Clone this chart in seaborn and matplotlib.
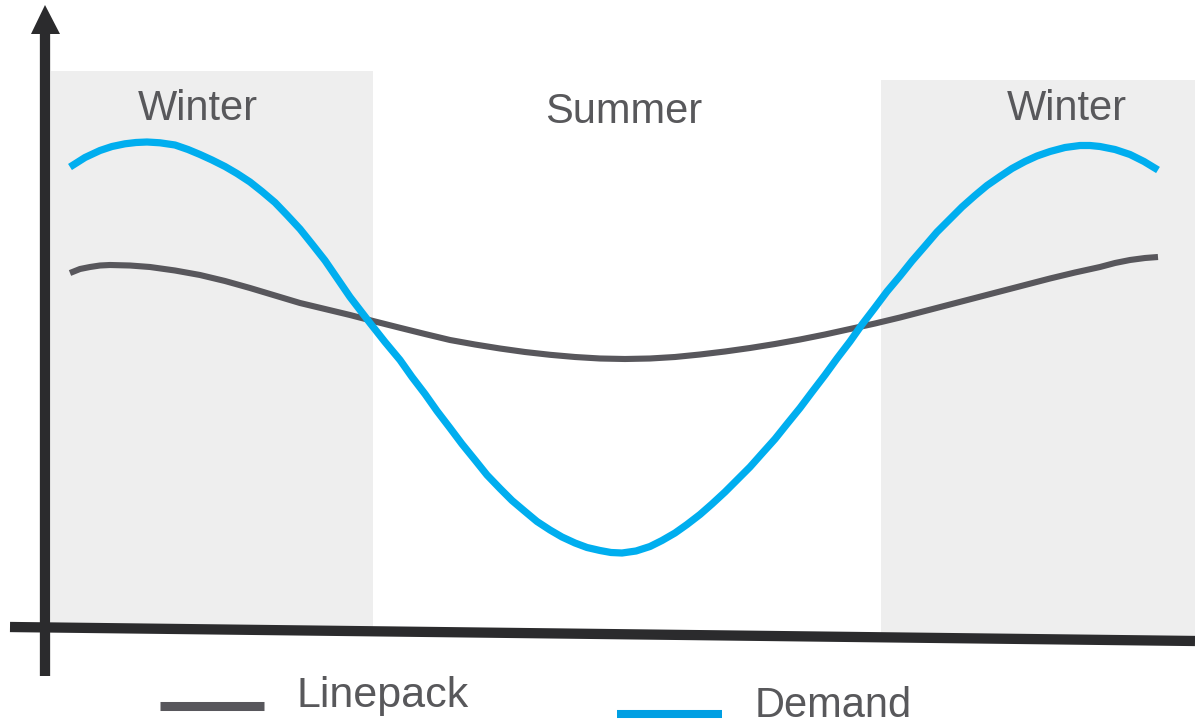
import matplotlib
matplotlib.use("Agg")
import matplotlib.pyplot as plt
import numpy as np
import pandas as pd
import seaborn as sns

# ---- data (x = horizontal position, y = vertical position, top = 0) ----
demand_x = [70, 85, 100, 112, 125, 136, 147, 160, 175, 188, 200, 212, 225, 237, 250, 262,
            275, 287, 300, 312, 325, 337, 350, 370, 385, 400, 412, 425, 437, 450, 462,
            475, 487, 500, 512, 525, 537, 550, 562, 575, 587, 600, 611, 622, 636, 650,
            662, 675, 687, 700, 712, 725, 737, 750, 762, 775, 787, 800, 812, 825, 837,
            850, 862, 875, 887, 900, 912, 925, 937, 950, 962, 975, 987, 1000, 1012, 1025,
            1037, 1050, 1065, 1080, 1090, 1100, 1115, 1130, 1144, 1158]
demand_y = [167, 157.5, 150.5, 146.5, 143.8, 142.5, 142, 142.8, 145, 149.5, 154.5, 160, 166.5, 173.5, 182, 191.5,
            202.5, 215, 229, 244, 260.5, 278, 297, 323, 342, 360, 377, 394, 411, 428, 444,
            460, 475, 488.5, 500.5, 511.5, 521.5, 530, 537, 543, 547.5, 550.5, 552.5, 553, 551, 546.5,
            540.5, 533, 524.5, 514.5, 504, 492, 480, 467, 453.5, 439, 424, 408, 392, 375, 358.5,
            341.5, 324.5, 307.5, 291.5, 276, 261, 246, 232, 219, 207, 195.5, 185.5, 176.5, 168.5, 161.5,
            156, 151.5, 147.5, 145.5, 145.5, 146.5, 149.5, 154.5, 161.5, 170]

linepack_x = [70, 80, 90, 100, 110, 130, 150, 175, 200, 225, 250, 275, 300, 325, 350, 375,
              400, 425, 450, 475, 500, 525, 550, 575, 600, 625, 650, 675, 700, 725,
              750, 775, 800, 825, 850, 875, 900, 925, 950, 975, 1000, 1025, 1050, 1075,
              1100, 1115, 1130, 1145, 1158]
linepack_y = [273, 269, 267, 265.5, 265, 265.5, 267, 270.5, 275, 281, 288, 295.5, 303, 309, 315, 321.5,
              327.8, 334, 340, 344.5, 348.5, 352, 354.8, 357, 358.5, 359, 358.5, 357, 354.5, 351.5,
              348, 344, 339.5, 334.5, 329, 323.5, 317.5, 311, 304.5, 298, 291.5, 285, 278.5, 272.5,
              267, 263, 260, 258, 257]

season_labels = ["Winter", "Summer", "Winter"]
series_names = ["Linepack", "Demand"]

# ---- styles ----
BLUE = "#00AEEF"
GREY = "#58575C"
AXIS = "#2B2B2D"
SHADE = "#EEEEEE"
TEXT = "#58585B"

sns.set_style("white")
plt.rcParams["font.family"] = ["Liberation Sans", "DejaVu Sans"]

fig = plt.figure(figsize=(11.95, 7.25), dpi=100)
ax = fig.add_axes([0, 0, 1, 1])

# shaded winter regions
ax.fill_between([51, 373], 71, 628, color=SHADE, lw=0, zorder=0)
ax.fill_between([881, 1195], 80, 637, color=SHADE, lw=0, zorder=0)

# series
df = pd.concat([
    pd.DataFrame({"x": linepack_x, "y": linepack_y, "series": series_names[0]}),
    pd.DataFrame({"x": demand_x, "y": demand_y, "series": series_names[1]}),
], ignore_index=True)

sns.lineplot(data=df[df.series == "Linepack"], x="x", y="y", color=GREY, lw=4.4,
             estimator=None, sort=False, legend=False, ax=ax, zorder=3,
             solid_capstyle="butt", solid_joinstyle="round")
sns.lineplot(data=df[df.series == "Demand"], x="x", y="y", color=BLUE, lw=5.2,
             estimator=None, sort=False, legend=False, ax=ax, zorder=4,
             solid_capstyle="butt", solid_joinstyle="round")

# hand-drawn axes
ax.plot([45, 45], [676, 30], color=AXIS, lw=7.4, solid_capstyle="butt", zorder=5)
ax.fill([31, 45, 60], [34, 5, 34], color=AXIS, lw=0, zorder=5)
ax.plot([10, 1195], [627, 641], color=AXIS, lw=7.4, solid_capstyle="butt", zorder=5)

# season labels
ax.text(198, 120, season_labels[0], ha="center", va="baseline", fontsize=30, color=TEXT, zorder=6)
ax.text(624, 123, season_labels[1], ha="center", va="baseline", fontsize=30, color=TEXT, zorder=6)
ax.text(1067, 120, season_labels[2], ha="center", va="baseline", fontsize=30, color=TEXT, zorder=6)

# legend
ax.plot([160, 264], [706, 706], color=GREY, lw=6.5, solid_capstyle="butt")
ax.text(297, 707, series_names[0], ha="left", va="baseline", fontsize=31, color=TEXT)
ax.plot([617, 722], [714, 714], color="#009FE3", lw=5.8, solid_capstyle="butt")
ax.text(755, 717, series_names[1], ha="left", va="baseline", fontsize=30, color=TEXT)

ax.set_xlim(0, 1195)
ax.set_ylim(725, 0)
ax.axis("off")

fig.savefig("out.png", dpi=100)
